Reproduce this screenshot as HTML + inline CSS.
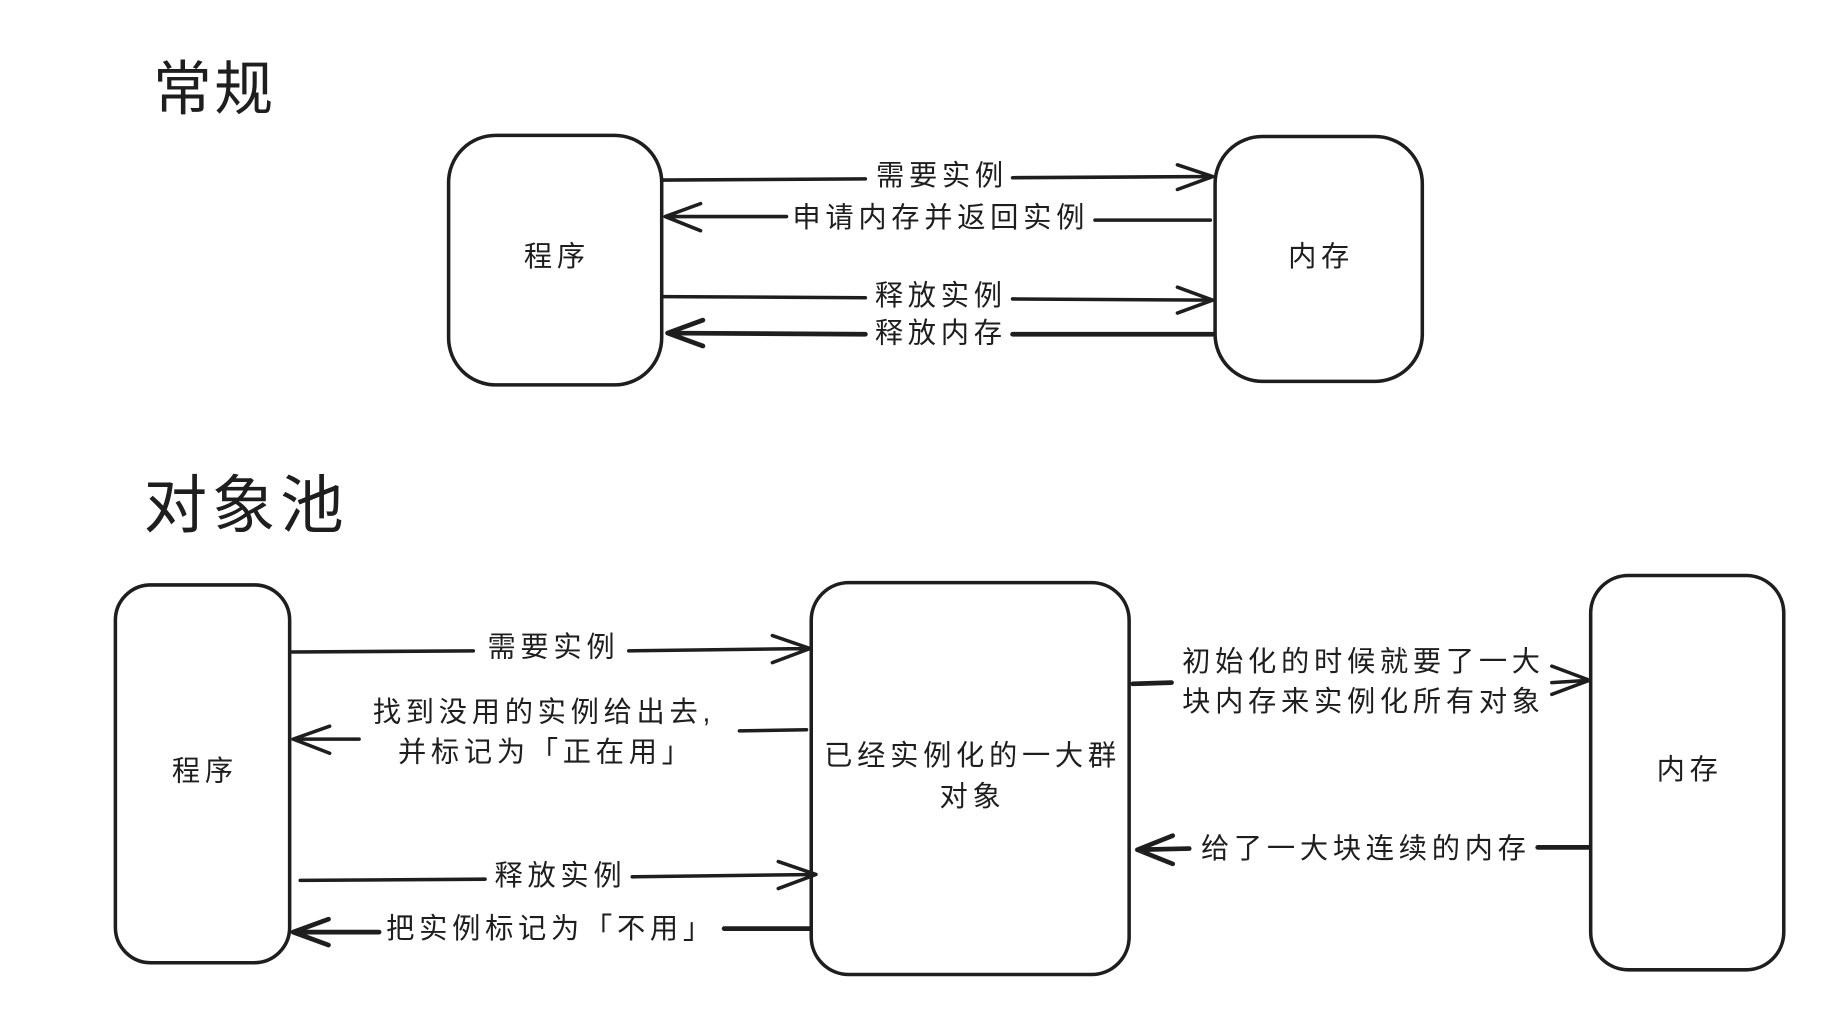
<!DOCTYPE html>
<html><head><meta charset="utf-8"><style>
html,body{margin:0;padding:0;background:#fff;}
svg{display:block;}
text{font-family:"Liberation Sans","Noto Sans CJK SC",sans-serif;fill:#1e1e1e;}
</style></head><body>
<svg width="1845" height="1031" viewBox="0 0 1567 876" preserveAspectRatio="none" xmlns="http://www.w3.org/2000/svg">
<rect width="1567" height="876" fill="#fff"/>
<g fill="none" stroke="#1e1e1e" stroke-width="3" stroke-linecap="round" stroke-linejoin="round">
<rect x="381" y="115" width="181" height="212" rx="40"/>
<rect x="1032" y="116" width="176" height="208" rx="40"/>
<rect x="98" y="497" width="148" height="321" rx="30"/>
<rect x="689" y="495" width="270" height="333" rx="32"/>
<rect x="1351" y="489" width="164" height="335" rx="32"/>
<path d="M563 153 L735 152 M860 151 L1030 150 M1000 140 L1030 150 L1000 161"/>
<path d="M1028 187 L930 187 M668 184 L565 184 M595 173 L565 184 L595 196"/>
<path d="M563 252 L735 253 M860 254 L1030 255 M1000 244 L1030 255 L1000 266"/>
<path stroke-width="4" d="M1030 284 L860 284 M735 284 L567 283 M597 272 L567 283 L597 294"/>
<path d="M248 554 L402 553 M534 553 L688 551 M656 540 L688 551 L656 563"/>
<path d="M685 620 L628 621 M305 628 L249 628 M280 617 L249 628 L280 640"/>
<path d="M255 748 L412 747 M537 745 L693 743 M661 732 L693 743 L661 755"/>
<path stroke-width="4" d="M688 789 L615 789 M322 792 L249 792 M279 781 L249 792 L279 803"/>
<path stroke-width="4" d="M962 581 L995 580"/>
<path d="M1318 580 L1350 578 M1318 566 L1350 578 L1318 590"/>
<path stroke-width="4" d="M1350 720 L1306 720 M1010 721 L966 722 M996 710 L966 722 L996 734"/>
</g>
<text x="130" y="93" font-size="50" letter-spacing="2">常规</text>
<text x="122" y="448" font-size="54" letter-spacing="4">对象池</text>
<g font-size="24" text-anchor="middle" letter-spacing="4">
<text x="473" y="226">程序</text>
<text x="1122" y="226">内存</text>
<text x="174" y="663">程序</text>
<text x="1435" y="662">内存</text>
<text x="826" y="650">已经实例化的一大群</text>
<text x="826" y="685">对象</text>
<text x="800" y="157">需要实例</text>
<text x="799" y="193">申请内存并返回实例</text>
<text x="799" y="259">释放实例</text>
<text x="799" y="291">释放内存</text>
<text x="470" y="558">需要实例</text>
<text x="462" y="613">找到没用的实例给出去,</text>
<text x="464" y="647">并标记为「正在用」</text>
<text x="476" y="752">释放实例</text>
<text x="468" y="797">把实例标记为「不用」</text>
<text x="1158" y="570">初始化的时候就要了一大</text>
<text x="1158" y="604">块内存来实例化所有对象</text>
<text x="1160" y="729">给了一大块连续的内存</text>
</g>
</svg>
</body></html>
